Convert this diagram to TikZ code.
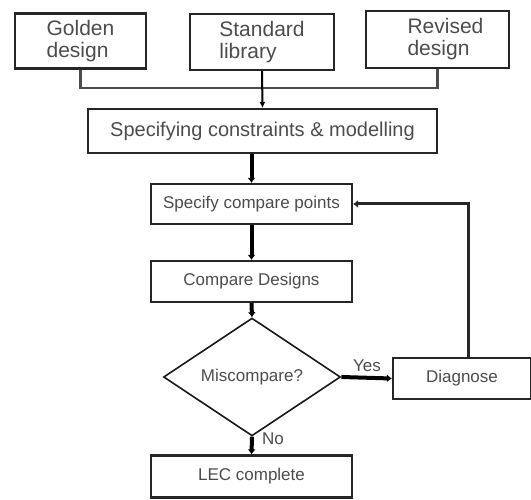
\documentclass[tikz,border=0pt]{standalone}
\usepackage{fontspec}
\setmainfont{Liberation Sans}
\usetikzlibrary{arrows.meta,shapes.geometric}
\begin{document}
\begin{tikzpicture}[x=1pt,y=-1pt,
  box/.style={draw=black!85,line width=2.2pt,rectangle,inner sep=0pt,text=black!70},
  topbox/.style={box,font=\fontsize{21}{22}\selectfont,align=left},
  midbox/.style={box,font=\fontsize{17}{19}\selectfont},
  decision/.style={diamond,draw=black!90,line width=1.6pt,inner sep=0pt,text=black!70,font=\fontsize{17}{19}\selectfont},
  bigarrow/.style={line width=4pt,-{Latex[length=5pt,width=8pt]}},
  busline/.style={draw=black!70,line width=2.2pt},
  feedline/.style={draw=black!85,line width=3pt,-{Latex[length=5pt,width=8pt]}},
  lbl/.style={text=black!70,font=\fontsize{17}{19}\selectfont,inner sep=0pt}]
\useasboundingbox (0,0) rectangle (531,500);

\node[topbox,minimum width=131pt,minimum height=55pt] (gold) at (80.5,41) {Golden\\design};
\node[topbox,minimum width=144pt,minimum height=56pt] (std) at (262,42) {Standard\\library};
\node[topbox,minimum width=143pt,minimum height=57pt] (rev) at (437.5,39.5) {\hspace*{16pt}Revised\\\hspace*{16pt}design};

\node[box,font=\fontsize{20}{22}\selectfont,minimum width=349pt,minimum height=44pt] (spec) at (262.5,131) {Specifying constraints \& modelling};
\node[midbox,minimum width=201pt,minimum height=40pt] (scp) at (251.5,204) {Specify compare points};
\node[midbox,minimum width=201pt,minimum height=41pt] (cd) at (251.5,281.5) {Compare Designs};
\node[decision,minimum width=177pt,minimum height=100pt] (mis) at (252,377) {Miscompare?};
\node[midbox,minimum width=138pt,minimum height=41pt] (diag) at (462,378.5) {Diagnose};
\node[midbox,minimum width=201pt,minimum height=42pt] (lec) at (251.5,476.5) {LEC complete};

% top bus
\coordinate (busL) at (gold.south |- 0,88);
\coordinate (busR) at (rev.south |- 0,88);
\draw[busline] (gold.south) -- (busL) -- (busR) -- (rev.south);
\draw[line width=2pt,-{Latex[length=6pt,width=6pt]}] (std.south) -- (spec.north);

% main flow
\draw[bigarrow] (spec.south -| scp.north) -- (scp.north);
\draw[bigarrow] (scp.south) -- (cd.north);
\draw[bigarrow] (cd.south) -- (mis.north);
\draw[bigarrow] (mis.east) -- (diag.west);
\draw[bigarrow] (mis.south) -- (lec.north);
\draw[feedline] ([xshift=6pt]diag.north) |- (scp.east);

\node[lbl] (yes) at (367,366) {Yes};
\node[lbl] (no) at (273,439) {No};
\end{tikzpicture}
\end{document}
